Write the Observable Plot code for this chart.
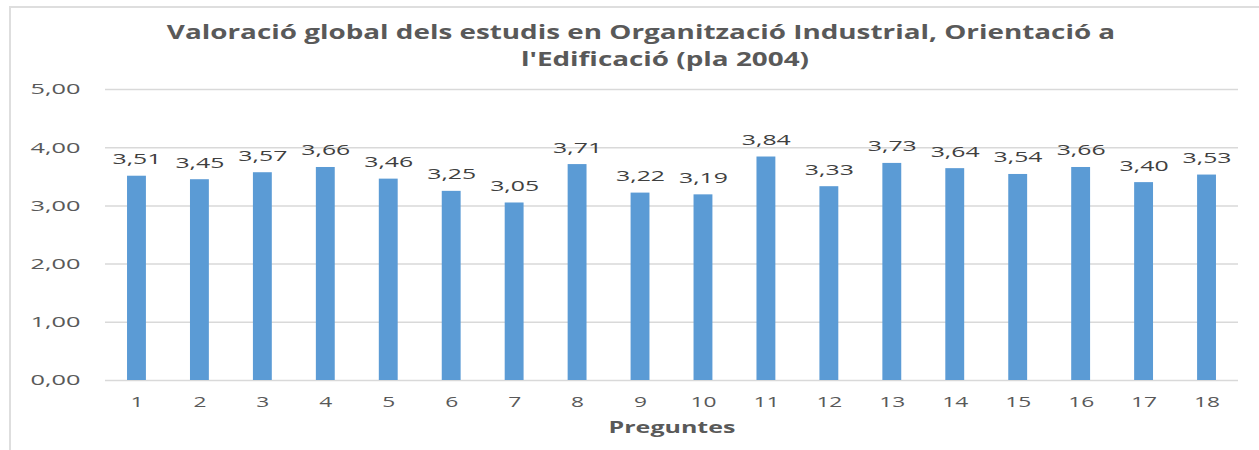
<!DOCTYPE html>
<html>
<head>
<meta charset="utf-8">
<script src="https://cdn.jsdelivr.net/npm/d3@7"></script>
<script src="https://cdn.jsdelivr.net/npm/@observablehq/plot@0.6"></script>
<style>
  body { margin: 0; background: #fff; width: 1259px; height: 450px; overflow: hidden; position: relative; font-family: "Open Sans", sans-serif; }
  #frame { position: absolute; left: 9px; top: 6px; width: 1300px; height: 500px; border: 2px solid #dedede; box-sizing: border-box; }
  .title { position: absolute; white-space: nowrap; font-weight: bold; font-size: 19px; line-height: 19px; color: #595959; transform-origin: center; }
  #chart { position: absolute; left: 0; top: 75px; }
</style>
</head>
<body>
<div id="frame"></div>
<div class="title" id="t1" style="left:641px; top:23px;">Valoració global dels estudis en Organització Industrial, Orientació a</div>
<div class="title" id="t2" style="left:665px; top:50px;">l'Edificació (pla 2004)</div>
<div id="chart"></div>
<script>
const preguntes = ["1","2","3","4","5","6","7","8","9","10","11","12","13","14","15","16","17","18"];
const valors = [3.51,3.45,3.57,3.66,3.46,3.25,3.05,3.71,3.22,3.19,3.84,3.33,3.73,3.64,3.54,3.66,3.40,3.53];
const yTicks = [0,1,2,3,4,5];
const xLabel = "Preguntes";

const data = preguntes.map((p, i) => ({pregunta: p, valor: valors[i]}));
const fmt = d => d.toFixed(2).replace(".", ",");

// title horizontal stretch to match reference
const t1 = document.getElementById("t1"), t2 = document.getElementById("t2");
const s = 948 / t1.offsetWidth;
[t1, t2].forEach(t => t.style.transform = `translateX(-50%) scaleX(${s})`);

const chart = Plot.plot({
  width: 1259,
  height: 375,
  marginLeft: 105,
  marginRight: 21,
  marginTop: 14,
  marginBottom: 70,
  style: {fontFamily: "Open Sans", fontSize: "15px", color: "#595959", background: "transparent"},
  x: {domain: preguntes, paddingInner: 0.7, paddingOuter: 0.35, round: false, label: null},
  y: {domain: [0, 5], label: null},
  marks: [
    Plot.gridY(yTicks, {stroke: "#d9d9d9", strokeOpacity: 1, strokeWidth: 1.5}),
    Plot.barY(data, {x: "pregunta", y: "valor", fill: "#5b9bd5"}),
    Plot.axisY(yTicks, {tickSize: 0, tickPadding: 25, tickFormat: fmt, label: null, fill: "#595959", className: "yax"}),
    Plot.axisX({tickSize: 0, tickPadding: 16, label: null, fill: "#595959", className: "xax"}),
    Plot.text(data, {x: "pregunta", y: "valor", text: d => fmt(d.valor), lineAnchor: "bottom", dy: -12, fill: "#404040", className: "lab"}),
    Plot.text([xLabel], {frameAnchor: "bottom", dy: 47, lineAnchor: "middle", fontWeight: "bold", fontSize: 16, fill: "#595959", className: "xl"})
  ]
});

document.getElementById("chart").appendChild(chart);

// horizontal stretch of texts (reference picture is stretched), calibrated per group
const groups = [["yax", "5,00", 50], ["lab", "3,71", 49], ["xax", "13", 26], ["xl", xLabel, 127]];
groups.forEach(([cls, refText, target]) => {
  const texts = Array.from(chart.querySelectorAll(`.${cls} text`));
  const ref = texts.find(t => t.textContent === refText) || texts[0];
  const k = target / ref.getBBox().width;
  texts.forEach(t => {
    const b = t.getBBox();
    const anchor = getComputedStyle(t).textAnchor;
    const ax = anchor === "end" ? b.x + b.width : anchor === "middle" ? b.x + b.width / 2 : b.x;
    const tr = t.getAttribute("transform") || "";
    t.setAttribute("transform", `${tr} translate(${ax},0) scale(${k},1) translate(${-ax},0)`);
  });
});
</script>
</body>
</html>
